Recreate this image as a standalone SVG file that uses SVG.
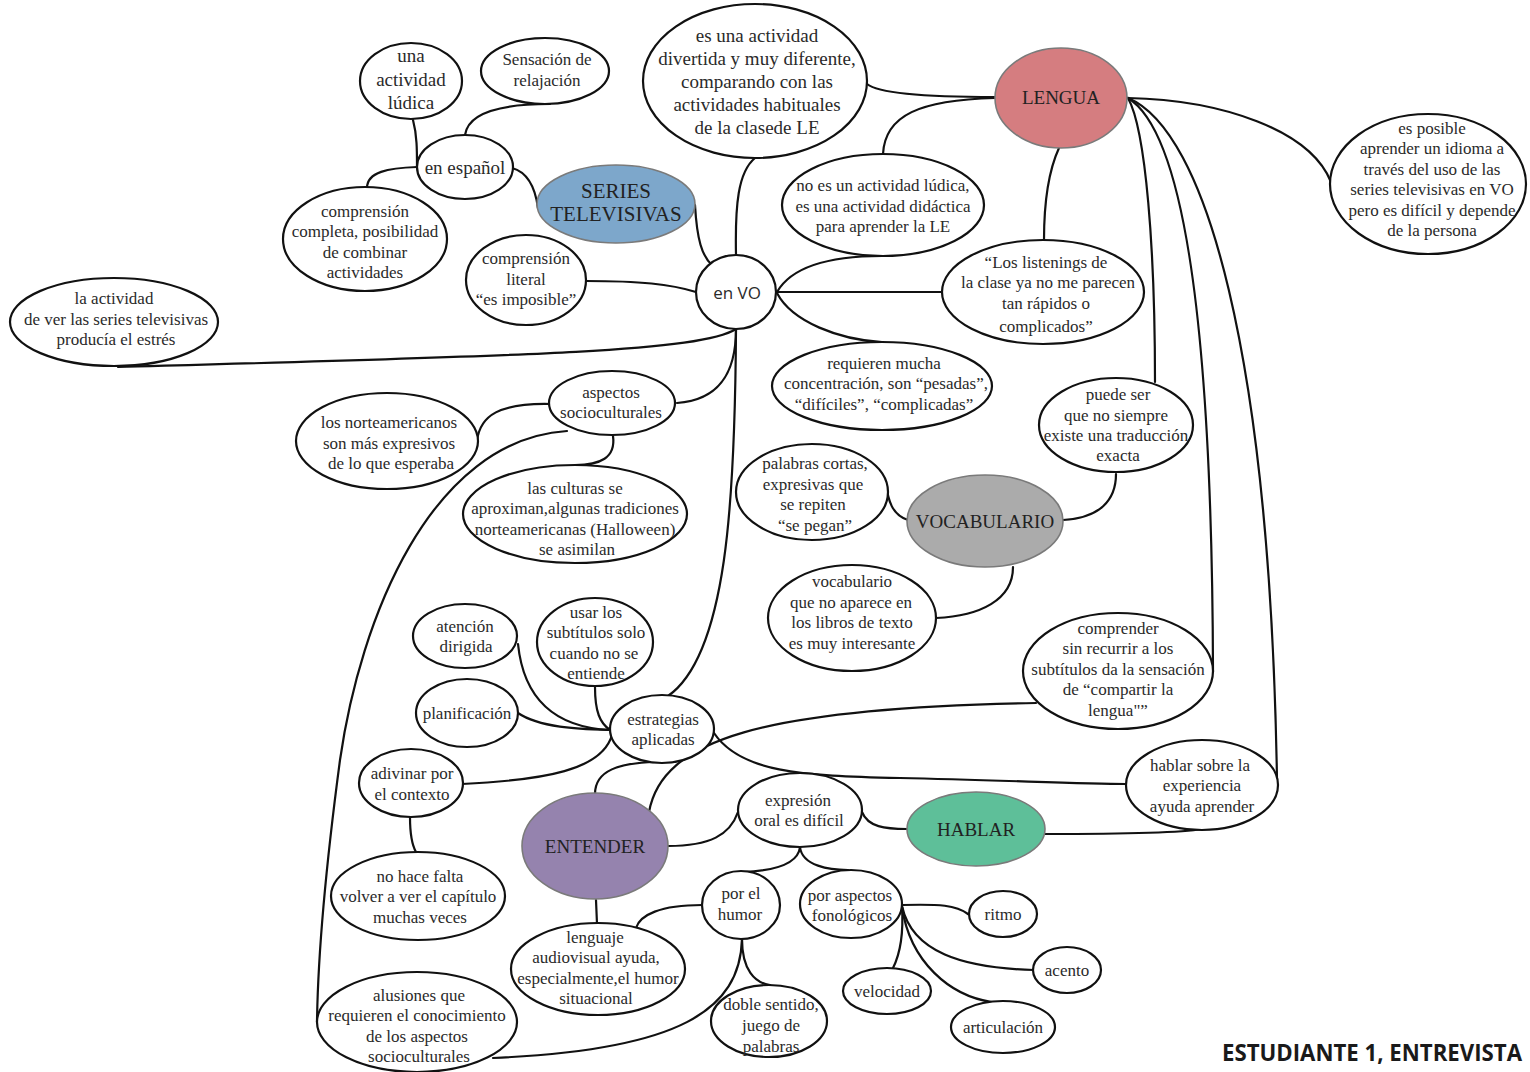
<svg xmlns="http://www.w3.org/2000/svg" width="1530" height="1072" viewBox="0 0 1530 1072">
  <style>
    .n ellipse { fill: #ffffff; stroke: #111111; stroke-width: 2.2; }
    .n text { font-family: "Liberation Serif", "Times New Roman", serif; font-size: 17px; fill: #2a2a2a; text-anchor: middle; }
    .k ellipse { stroke: #7a7a7a; stroke-width: 1.6; }
    .k text { font-size: 19px; fill: #222222; }
    .c path { fill: none; stroke: #111111; stroke-width: 2.2; stroke-linecap: round; }
    .big text { font-size: 19px; }
  </style>
  <rect width="1530" height="1072" fill="#ffffff"/>

  <!-- connectors -->
  <g id="connectors" class="c">
    <path d="M512,168 C527,172 535,186 538,208"/>
    <path d="M695,205 C697,240 702,256 712,265"/>
    <path d="M413,120 C417,135 417,150 417,167"/>
    <path d="M417,167 C388,168 367,172 367,188"/>
    <path d="M465,135 C468,113 500,104 550,104"/>
    <path d="M696,292 C670,284 640,281 586,281"/>
    <path d="M736,255 C735,205 738,172 755,158"/>
    <path d="M777,292 C792,266 830,256 882,256"/>
    <path d="M777,292 L943,292"/>
    <path d="M777,293 C792,322 840,340 882,342"/>
    <path d="M736,329 C700,352 520,356 118,367"/>
    <path d="M736,329 C736,372 720,400 677,403"/>
    <path d="M736,329 C735,500 727,655 668,696"/>
    <path d="M550,404 C500,403 480,415 477,441"/>
    <path d="M613,436 C616,458 600,465 575,465"/>
    <path d="M567,431 C430,440 360,620 340,760 C328,850 318,950 317,1022"/>
    <path d="M518,644 C525,712 570,728 610,730"/>
    <path d="M595,687 C595,712 600,723 610,730"/>
    <path d="M518,713 C540,728 580,729 610,730"/>
    <path d="M462,784 C545,780 602,770 612,735"/>
    <path d="M595,794 C595,770 620,763 655,762"/>
    <path d="M714,733 C740,772 800,776 900,778 C1000,780 1080,784 1126,784"/>
    <path d="M649,812 C662,740 760,708 1036,703"/>
    <path d="M668,846 C710,846 730,835 738,812"/>
    <path d="M596,900 L597,924"/>
    <path d="M862,812 C868,827 885,829 907,829"/>
    <path d="M1045,834 C1120,834 1180,833 1202,829"/>
    <path d="M800,847 C798,866 770,871 742,872"/>
    <path d="M800,847 C802,866 830,870 848,870"/>
    <path d="M702,905 C660,905 640,915 636,928"/>
    <path d="M742,939 C742,970 755,983 770,985"/>
    <path d="M742,939 C740,1010 680,1050 493,1058"/>
    <path d="M902,905 C940,904 956,905 968,914"/>
    <path d="M902,906 C912,952 962,968 1034,970"/>
    <path d="M902,907 C904,940 898,958 893,968"/>
    <path d="M902,907 C910,962 950,996 992,1002"/>
    <path d="M410,817 C410,835 412,845 416,852"/>
    <path d="M908,520 C892,515 888,500 886,484"/>
    <path d="M1013,567 C1013,600 980,616 936,618"/>
    <path d="M1063,520 C1100,518 1116,500 1116,474"/>
    <path d="M867,84 C880,95 940,97 995,97"/>
    <path d="M883,154 C885,115 920,100 995,98"/>
    <path d="M1059,148 C1048,172 1044,205 1044,240"/>
    <path d="M1128,98 C1222,100 1310,130 1331,182"/>
    <path d="M1128,98 C1146,130 1155,250 1155,382"/>
    <path d="M1128,98 C1180,130 1212,300 1213,672"/>
    <path d="M1128,98 C1205,130 1270,350 1277,780"/>
  </g>

  <!-- key concepts -->
  <g id="series" class="n k">
    <ellipse cx="616" cy="204" rx="79" ry="39" style="fill:#7da7cb"/>
    <text style="font-size:21px"><tspan x="616" y="198">SERIES</tspan><tspan x="616" y="221">TELEVISIVAS</tspan></text>
  </g>
  <g id="lengua" class="n k">
    <ellipse cx="1061" cy="98" rx="66" ry="50" style="fill:#d57d80"/>
    <text x="1061" y="104">LENGUA</text>
  </g>
  <g id="vocabulario" class="n k">
    <ellipse cx="985" cy="521" rx="78" ry="46" style="fill:#ababab"/>
    <text x="985" y="528">VOCABULARIO</text>
  </g>
  <g id="entender" class="n k">
    <ellipse cx="595" cy="846" rx="73" ry="53" style="fill:#9583ae"/>
    <text x="595" y="853">ENTENDER</text>
  </g>
  <g id="hablar" class="n k">
    <ellipse cx="976" cy="829" rx="69" ry="37" style="fill:#5ebf99"/>
    <text x="976" y="836">HABLAR</text>
  </g>

  <!-- statements -->
  <g id="ludica" class="n big">
    <ellipse cx="411" cy="81" rx="51" ry="38"/>
    <text><tspan x="411" y="62">una</tspan><tspan x="411" y="86">actividad</tspan><tspan x="411" y="109">lúdica</tspan></text>
  </g>
  <g id="relajacion" class="n">
    <ellipse cx="545" cy="71" rx="64" ry="33"/>
    <text><tspan x="547" y="65">Sensación de</tspan><tspan x="547" y="86">relajación</tspan></text>
  </g>
  <g id="espanol" class="n big">
    <ellipse cx="465" cy="167" rx="48" ry="32"/>
    <text x="465" y="174">en español</text>
  </g>
  <g id="completa" class="n">
    <ellipse cx="365" cy="239" rx="82" ry="52"/>
    <text><tspan x="365" y="217">comprensión</tspan><tspan x="365" y="237">completa, posibilidad</tspan><tspan x="365" y="258">de combinar</tspan><tspan x="365" y="278">actividades</tspan></text>
  </g>
  <g id="divertida" class="n big">
    <ellipse cx="755" cy="81" rx="112" ry="77"/>
    <text><tspan x="757" y="42">es una actividad</tspan><tspan x="757" y="65">divertida y muy diferente,</tspan><tspan x="757" y="88">comparando con las</tspan><tspan x="757" y="111">actividades habituales</tspan><tspan x="757" y="134">de la clasede LE</tspan></text>
  </g>
  <g id="posible" class="n">
    <ellipse cx="1428" cy="184" rx="98" ry="70"/>
    <text><tspan x="1432" y="134">es posible</tspan><tspan x="1432" y="154">aprender un idioma a</tspan><tspan x="1432" y="175">través del uso de las</tspan><tspan x="1432" y="195">series televisivas en VO</tspan><tspan x="1432" y="216">pero es difícil y depende</tspan><tspan x="1432" y="236">de la persona</tspan></text>
  </g>
  <g id="didactica" class="n">
    <ellipse cx="883" cy="205" rx="101" ry="51"/>
    <text><tspan x="883" y="191">no es un actividad lúdica,</tspan><tspan x="883" y="212">es una actividad didáctica</tspan><tspan x="883" y="232">para aprender la LE</tspan></text>
  </g>
  <g id="literal" class="n">
    <ellipse cx="526" cy="280" rx="60" ry="45"/>
    <text><tspan x="526" y="264">comprensión</tspan><tspan x="526" y="285">literal</tspan><tspan x="526" y="305">“es imposible”</tspan></text>
  </g>
  <g id="envo" class="n">
    <ellipse cx="736" cy="292" rx="40" ry="37"/>
    <text x="737" y="299" style="font-family:'Open Sans','Liberation Sans',sans-serif;font-size:17px">en VO</text>
  </g>
  <g id="listenings" class="n">
    <ellipse cx="1043" cy="292" rx="101" ry="52"/>
    <text><tspan x="1046" y="268">“Los listenings de</tspan><tspan x="1048" y="288">la clase ya no me parecen</tspan><tspan x="1046" y="309">tan rápidos o</tspan><tspan x="1046" y="332">complicados”</tspan></text>
  </g>
  <g id="estres" class="n">
    <ellipse cx="114" cy="322" rx="104" ry="44"/>
    <text><tspan x="114" y="304">la actividad</tspan><tspan x="116" y="325">de ver las series televisivas</tspan><tspan x="116" y="345">producía el estrés</tspan></text>
  </g>
  <g id="concentracion" class="n">
    <ellipse cx="882" cy="386" rx="110" ry="44"/>
    <text><tspan x="884" y="369">requieren mucha</tspan><tspan x="886" y="389">concentración, son “pesadas”,</tspan><tspan x="884" y="410">“difíciles”, “complicadas”</tspan></text>
  </g>
  <g id="socioculturales" class="n">
    <ellipse cx="612" cy="403" rx="63" ry="32"/>
    <text><tspan x="611" y="398">aspectos</tspan><tspan x="611" y="418">socioculturales</tspan></text>
  </g>
  <g id="expresivos" class="n">
    <ellipse cx="387" cy="441" rx="91" ry="48"/>
    <text><tspan x="389" y="428">los norteamericanos</tspan><tspan x="389" y="449">son más expresivos</tspan><tspan x="391" y="469">de lo que esperaba</tspan></text>
  </g>
  <g id="traduccion" class="n">
    <ellipse cx="1116" cy="425" rx="77" ry="47"/>
    <text><tspan x="1118" y="400">puede ser</tspan><tspan x="1116" y="421">que no siempre</tspan><tspan x="1116" y="441">existe una traducción</tspan><tspan x="1118" y="461">exacta</tspan></text>
  </g>
  <g id="culturas" class="n">
    <ellipse cx="575" cy="514" rx="112" ry="49"/>
    <text><tspan x="575" y="494">las culturas se</tspan><tspan x="575" y="514">aproximan,algunas tradiciones</tspan><tspan x="575" y="535">norteamericanas (Halloween)</tspan><tspan x="577" y="555">se asimilan</tspan></text>
  </g>
  <g id="palabras" class="n">
    <ellipse cx="812" cy="492" rx="76" ry="48"/>
    <text><tspan x="815" y="469">palabras cortas,</tspan><tspan x="813" y="490">expresivas que</tspan><tspan x="813" y="510">se repiten</tspan><tspan x="815" y="531">“se pegan”</tspan></text>
  </g>
  <g id="libros" class="n">
    <ellipse cx="852" cy="618" rx="84" ry="53"/>
    <text><tspan x="852" y="587">vocabulario</tspan><tspan x="851" y="608">que no aparece en</tspan><tspan x="852" y="628">los libros de texto</tspan><tspan x="852" y="649">es muy interesante</tspan></text>
  </g>
  <g id="atencion" class="n">
    <ellipse cx="465" cy="636" rx="52" ry="32"/>
    <text><tspan x="465" y="632">atención</tspan><tspan x="466" y="652">dirigida</tspan></text>
  </g>
  <g id="subtitulos" class="n">
    <ellipse cx="595" cy="642" rx="58" ry="44"/>
    <text><tspan x="596" y="618">usar los</tspan><tspan x="596" y="638">subtítulos solo</tspan><tspan x="594" y="659">cuando no se</tspan><tspan x="596" y="679">entiende</tspan></text>
  </g>
  <g id="compartir" class="n">
    <ellipse cx="1118" cy="671" rx="95" ry="58"/>
    <text><tspan x="1118" y="634">comprender</tspan><tspan x="1118" y="654">sin recurrir a los</tspan><tspan x="1118" y="675">subtítulos da la sensación</tspan><tspan x="1118" y="695">de “compartir la</tspan><tspan x="1118" y="716">lengua"”</tspan></text>
  </g>
  <g id="planificacion" class="n">
    <ellipse cx="467" cy="713" rx="51" ry="34"/>
    <text x="467" y="719">planificación</text>
  </g>
  <g id="estrategias" class="n">
    <ellipse cx="662" cy="729" rx="52" ry="34"/>
    <text><tspan x="663" y="725">estrategias</tspan><tspan x="663" y="745">aplicadas</tspan></text>
  </g>
  <g id="contexto" class="n">
    <ellipse cx="411" cy="783" rx="52" ry="34"/>
    <text><tspan x="412" y="779">adivinar por</tspan><tspan x="412" y="800">el contexto</tspan></text>
  </g>
  <g id="experiencia" class="n">
    <ellipse cx="1202" cy="785" rx="76" ry="45"/>
    <text><tspan x="1200" y="771">hablar sobre la</tspan><tspan x="1202" y="791">experiencia</tspan><tspan x="1202" y="812">ayuda aprender</tspan></text>
  </g>
  <g id="expresion" class="n">
    <ellipse cx="800" cy="810" rx="62" ry="37"/>
    <text><tspan x="798" y="806">expresión</tspan><tspan x="799" y="826">oral es difícil</tspan></text>
  </g>
  <g id="capitulo" class="n">
    <ellipse cx="418" cy="896" rx="87" ry="44"/>
    <text><tspan x="420" y="882">no hace falta</tspan><tspan x="418" y="902">volver a ver el capítulo</tspan><tspan x="420" y="923">muchas veces</tspan></text>
  </g>
  <g id="humor" class="n">
    <ellipse cx="741" cy="905" rx="39" ry="34"/>
    <text><tspan x="741" y="899">por el</tspan><tspan x="740" y="920">humor</tspan></text>
  </g>
  <g id="fonologicos" class="n">
    <ellipse cx="851" cy="904" rx="51" ry="34"/>
    <text><tspan x="850" y="901">por aspectos</tspan><tspan x="852" y="921">fonológicos</tspan></text>
  </g>
  <g id="ritmo" class="n">
    <ellipse cx="1003" cy="914" rx="34" ry="23"/>
    <text x="1003" y="920">ritmo</text>
  </g>
  <g id="audiovisual" class="n">
    <ellipse cx="598" cy="969" rx="87" ry="46"/>
    <text><tspan x="595" y="943">lenguaje</tspan><tspan x="596" y="963">audiovisual ayuda,</tspan><tspan x="598" y="984">especialmente,el humor</tspan><tspan x="596" y="1004">situacional</tspan></text>
  </g>
  <g id="acento" class="n">
    <ellipse cx="1067" cy="970" rx="34" ry="23"/>
    <text x="1067" y="976">acento</text>
  </g>
  <g id="velocidad" class="n">
    <ellipse cx="887" cy="991" rx="44" ry="23"/>
    <text x="887" y="997">velocidad</text>
  </g>
  <g id="alusiones" class="n">
    <ellipse cx="417" cy="1022" rx="100" ry="50"/>
    <text><tspan x="419" y="1001">alusiones que</tspan><tspan x="417" y="1021">requieren el conocimiento</tspan><tspan x="417" y="1042">de los aspectos</tspan><tspan x="419" y="1062">socioculturales</tspan></text>
  </g>
  <g id="doble" class="n">
    <ellipse cx="769" cy="1021" rx="58" ry="36"/>
    <text><tspan x="771" y="1010">doble sentido,</tspan><tspan x="771" y="1031">juego de</tspan><tspan x="771" y="1052">palabras</tspan></text>
  </g>
  <g id="articulacion" class="n">
    <ellipse cx="1003" cy="1027" rx="52" ry="26"/>
    <text x="1003" y="1033">articulación</text>
  </g>

  <!-- caption -->
  <text x="1222" y="1061" font-family="'Open Sans', 'Liberation Sans', sans-serif" font-weight="bold" font-size="23" fill="#1a1a1a" textLength="300" lengthAdjust="spacingAndGlyphs">ESTUDIANTE 1, ENTREVISTA</text>
</svg>
